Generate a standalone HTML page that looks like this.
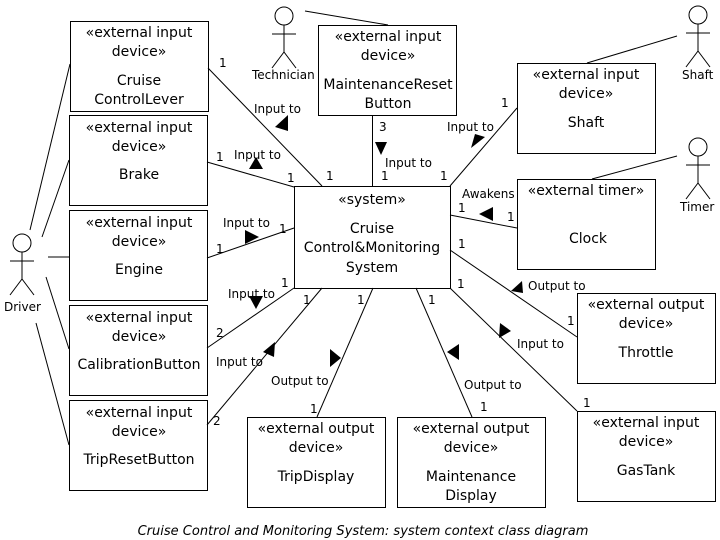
<!DOCTYPE html>
<html><head><style>
body{margin:0;background:#fff}
svg{display:block}
text{font-family:"DejaVu Sans","Liberation Sans",sans-serif;fill:#000}
.b{font-size:14px;text-anchor:middle}
.l{font-size:12px}
</style></head><body>
<svg width="720" height="540" viewBox="0 0 720 540" xmlns="http://www.w3.org/2000/svg">
<defs>
<g id="act" fill="none" stroke="#000" stroke-width="1">
<circle cx="0" cy="0" r="9"/>
<line x1="0" y1="9" x2="0" y2="36"/>
<line x1="-12" y1="18" x2="12" y2="18"/>
<line x1="0" y1="36" x2="-12" y2="52"/>
<line x1="0" y1="36" x2="12" y2="52"/>
</g>
</defs>
<g fill="none" stroke="#000" stroke-width="1">
<rect x="70.5" y="21.5" width="138" height="90"/>
<rect x="69.5" y="115.5" width="138" height="90"/>
<rect x="69.5" y="210.5" width="138" height="90"/>
<rect x="69.5" y="305.5" width="138" height="90"/>
<rect x="69.5" y="400.5" width="138" height="90"/>
<rect x="318.5" y="25.5" width="138" height="90"/>
<rect x="294.5" y="186.5" width="156" height="102"/>
<rect x="517.5" y="63.5" width="138" height="90"/>
<rect x="517.5" y="179.5" width="138" height="90"/>
<rect x="577.5" y="293.5" width="138" height="90"/>
<rect x="577.5" y="411.5" width="138" height="90"/>
<rect x="247.5" y="417.5" width="138" height="90"/>
<rect x="397.5" y="417.5" width="148" height="90"/>
<line x1="305" y1="11" x2="388" y2="25"/>
<line x1="677" y1="36" x2="587" y2="63"/>
<line x1="677" y1="156" x2="592" y2="179"/>
<line x1="30" y1="230" x2="70" y2="64"/>
<line x1="42" y1="237" x2="69" y2="160"/>
<line x1="48" y1="257" x2="69" y2="257"/>
<line x1="46" y1="277" x2="69" y2="349"/>
<line x1="36" y1="323" x2="69" y2="445"/>
<line x1="208" y1="68" x2="322" y2="186"/>
<line x1="207" y1="162" x2="294" y2="187"/>
<line x1="207" y1="258" x2="294" y2="228"/>
<line x1="207" y1="348" x2="294" y2="288"/>
<line x1="207" y1="425" x2="322" y2="288"/>
<line x1="372.5" y1="115" x2="372.5" y2="186"/>
<line x1="450" y1="186" x2="517" y2="108"/>
<line x1="450" y1="215" x2="517" y2="228"/>
<line x1="450" y1="250" x2="577" y2="337"/>
<line x1="450" y1="288" x2="577" y2="411"/>
<line x1="373" y1="288" x2="317" y2="417"/>
<line x1="416" y1="288" x2="472" y2="417"/>
</g>
<use href="#act" x="284" y="16"/>
<use href="#act" x="698" y="15"/>
<use href="#act" x="698" y="147"/>
<use href="#act" x="22" y="243"/>
<g fill="#000">
<polygon points="275,127 288,115 288,131"/>
<polygon points="249,169 263,169 256,157"/>
<polygon points="245,230 259,237 245,244"/>
<polygon points="249,296 263,296 256,309"/>
<polygon points="263,352 275,342 274,357"/>
<polygon points="330,349 341,358 330,367"/>
<polygon points="459,344 459,360 447,352"/>
<polygon points="500,323 511,331 499,338"/>
<polygon points="511,291 522,281 523,293"/>
<polygon points="479,214 493,207 493,221"/>
<polygon points="471,148 485,137 475,134"/>
<polygon points="375,142 387,142 381,155"/>
</g>
<g class="b">
<text x="139" y="37">«external input</text><text x="139" y="56">device»</text>
<text x="139" y="85">Cruise</text><text x="139" y="104">ControlLever</text>
<text x="139" y="132">«external input</text><text x="139" y="151">device»</text><text x="139" y="179">Brake</text>
<text x="139" y="227">«external input</text><text x="139" y="246">device»</text><text x="139" y="274">Engine</text>
<text x="139" y="322">«external input</text><text x="139" y="341">device»</text><text x="139" y="369">CalibrationButton</text>
<text x="139" y="417">«external input</text><text x="139" y="436">device»</text><text x="139" y="464">TripResetButton</text>
<text x="388" y="41">«external input</text><text x="388" y="60">device»</text>
<text x="388" y="89">MaintenanceReset</text><text x="388" y="108">Button</text>
<text x="372" y="204">«system»</text><text x="372" y="233">Cruise</text>
<text x="372" y="252">Control&amp;Monitoring</text><text x="372" y="272">System</text>
<text x="586" y="79">«external input</text><text x="586" y="98">device»</text><text x="586" y="127">Shaft</text>
<text x="586" y="195">«external timer»</text><text x="588" y="243">Clock</text>
<text x="646" y="309">«external output</text><text x="646" y="328">device»</text><text x="646" y="357">Throttle</text>
<text x="646" y="427">«external input</text><text x="646" y="446">device»</text><text x="646" y="475">GasTank</text>
<text x="316" y="433">«external output</text><text x="316" y="452">device»</text><text x="316" y="481">TripDisplay</text>
<text x="471" y="433">«external output</text><text x="471" y="452">device»</text>
<text x="471" y="481">Maintenance</text><text x="471" y="500">Display</text>
</g>
<g class="l">
<text x="252" y="79">Technician</text>
<text x="682" y="79">Shaft</text>
<text x="680" y="211">Timer</text>
<text x="4" y="311">Driver</text>
<text x="254" y="113">Input to</text>
<text x="234" y="159">Input to</text>
<text x="223" y="227">Input to</text>
<text x="228" y="298">Input to</text>
<text x="216" y="366">Input to</text>
<text x="271" y="385">Output to</text>
<text x="464" y="389">Output to</text>
<text x="517" y="348">Input to</text>
<text x="528" y="290">Output to</text>
<text x="462" y="198">Awakens</text>
<text x="447" y="131">Input to</text>
<text x="385" y="167">Input to</text>
<text x="219" y="67">1</text><text x="216" y="161">1</text><text x="287" y="182">1</text>
<text x="326" y="180">1</text><text x="279" y="233">1</text><text x="216" y="253">1</text>
<text x="281" y="287">1</text><text x="303" y="304">1</text><text x="357" y="304">1</text>
<text x="428" y="304">1</text><text x="216" y="337">2</text><text x="213" y="425">2</text>
<text x="310" y="413">1</text><text x="480" y="411">1</text><text x="583" y="407">1</text>
<text x="567" y="325">1</text><text x="457" y="288">1</text><text x="458" y="248">1</text>
<text x="458" y="212">1</text><text x="507" y="221">1</text><text x="440" y="180">1</text>
<text x="501" y="107">1</text><text x="379" y="131">3</text><text x="381" y="180">1</text>
</g>
<text x="363" y="535" style="font-size:13px;font-style:italic;text-anchor:middle">Cruise Control and Monitoring System: system context class diagram</text>
</svg>
</body></html>
